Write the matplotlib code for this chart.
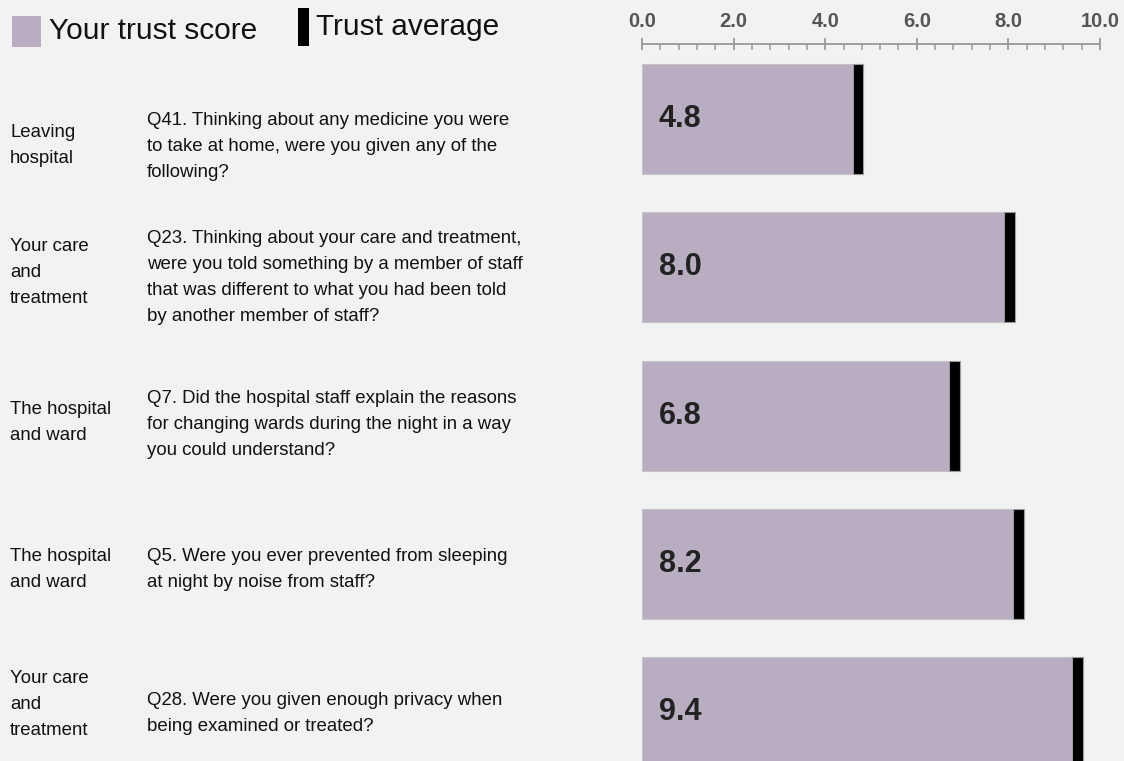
import matplotlib.pyplot as plt
import matplotlib.transforms as mtransforms
from matplotlib.patches import Rectangle
from matplotlib.ticker import MultipleLocator

plt.rcParams['font.family'] = ['Liberation Sans', 'DejaVu Sans']

sections = ['Leaving\nhospital',
            'Your care\nand\ntreatment',
            'The hospital\nand ward',
            'The hospital\nand ward',
            'Your care\nand\ntreatment']
questions = ['Q41. Thinking about any medicine you were\nto take at home, were you given any of the\nfollowing?',
             'Q23. Thinking about your care and treatment,\nwere you told something by a member of staff\nthat was different to what you had been told\nby another member of staff?',
             'Q7. Did the hospital staff explain the reasons\nfor changing wards during the night in a way\nyou could understand?',
             'Q5. Were you ever prevented from sleeping\nat night by noise from staff?',
             'Q28. Were you given enough privacy when\nbeing examined or treated?']
scores = [4.8, 8.0, 6.8, 8.2, 9.4]
averages = [4.72, 8.02, 6.82, 8.22, 9.51]
tick_labels = ['0.0', '2.0', '4.0', '6.0', '8.0', '10.0']

# text rows sit a little below the bar centres (in row units)
sec_offset = [0.18, 0.037, 0.05, 0.037, -0.05]
q_offset = [0.184, 0.067, 0.06, 0.04, 0.01]

bar_color = '#b9adc1'
bg = '#f2f2f2'
W, H = 1124, 761

fig = plt.figure(figsize=(W / 100, H / 100), dpi=100, facecolor=bg)
ax = fig.add_axes([642 / W, 0, 458 / W, 1 - 44 / H])
ax.set_facecolor(bg)

rows = list(range(len(scores)))
ax.barh(rows, scores, height=0.742, color=bar_color, edgecolor='#c4c4c4', linewidth=0.8, zorder=2)
ax.barh(rows, [0.23] * len(averages), left=[a - 0.115 for a in averages], height=0.742,
        color='black', edgecolor='#9a9a9a', linewidth=0.8, zorder=3)

for i, s in enumerate(scores):
    ax.text(0.37, i, f'{s:.1f}', ha='left', va='center', fontsize=22, fontweight='bold',
            color='#222222', zorder=4)

ax.set_xlim(0, 10)
ax.set_ylim(4.33, -0.506)

ax.xaxis.tick_top()
ax.set_xticks([0, 2, 4, 6, 8, 10])
ax.set_xticklabels(tick_labels)
ax.xaxis.set_minor_locator(MultipleLocator(0.4))
ax.tick_params(axis='x', which='major', direction='inout', length=8, width=1.3, color='#999999',
               labelsize=14.5, labelcolor='#555555', pad=5.5)
ax.tick_params(axis='x', which='minor', direction='in', length=4, width=1.1, color='#999999')
for lab in ax.get_xticklabels():
    lab.set_fontweight('bold')
ax.set_yticks([])
for side in ['bottom', 'left', 'right']:
    ax.spines[side].set_visible(False)
ax.spines['top'].set_color('#999999')
ax.spines['top'].set_linewidth(1.3)

trans = mtransforms.blended_transform_factory(fig.transFigure, ax.transData)
for i in rows:
    ax.text(10 / W, i + sec_offset[i], sections[i], transform=trans, ha='left', va='center',
            fontsize=13.4, linespacing=1.69, color='#111111', clip_on=False)
    ax.text(147 / W, i + q_offset[i], questions[i], transform=trans, ha='left', va='center',
            fontsize=13.4, linespacing=1.69, color='#111111', clip_on=False)

# legend
fig.add_artist(Rectangle((12 / W, 1 - 47 / H), 29 / W, 31 / H, transform=fig.transFigure,
                         facecolor=bar_color, edgecolor='none'))
fig.text(49 / W, 1 - 31 / H, 'Your trust score', ha='left', va='center', fontsize=21.5, color='#111111')
fig.add_artist(Rectangle((298 / W, 1 - 46 / H), 11 / W, 38 / H, transform=fig.transFigure,
                         facecolor='black', edgecolor='none'))
fig.text(316 / W, 1 - 27 / H, 'Trust average', ha='left', va='center', fontsize=21.5, color='#111111')

fig.savefig('out.png', dpi=100, facecolor=bg)
